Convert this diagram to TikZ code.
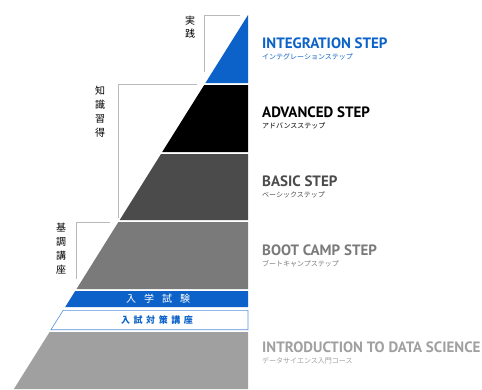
\documentclass[tikz,border=0pt]{standalone}
\usepackage{fontspec}
\usepackage{tikz}
\setsansfont{PT Sans}
\newfontfamily\jpfont{Noto Sans CJK JP}
\definecolor{stepblue}{RGB}{12,98,200}
\definecolor{darkstep}{RGB}{75,75,75}
\definecolor{midstep}{RGB}{122,122,122}
\definecolor{lightstep}{RGB}{160,160,160}
\definecolor{bracketgray}{RGB}{185,185,185}

\begin{document}
\begin{tikzpicture}[x=1pt,y=1pt]
\tikzstyle{every node}+=[inner sep=0pt]
\tikzstyle{title}=[anchor=base west,font=\sffamily\bfseries\fontsize{15}{15}\selectfont]
\tikzstyle{subtitle}=[anchor=base west,font=\jpfont\fontsize{7}{7}\selectfont]
\tikzstyle{side}=[font=\jpfont\fontsize{10}{10}\selectfont,align=center]
\useasboundingbox (0,0) rectangle (482,-389);
% pyramid layers
\fill [stepblue] (248,-15) -- (248,-83) -- (205.4,-83) -- cycle;
\fill [black] (248,-85) -- (248,-152) -- (162.2,-152) -- (204.2,-85) -- cycle;
\fill [darkstep] (248,-154) -- (248,-220) -- (119.7,-220) -- (161.0,-154) -- cycle;
\fill [midstep] (248,-222) -- (248,-289) -- (76.5,-289) -- (118.4,-222) -- cycle;
\fill [stepblue] (248,-291) -- (248,-307) -- (65.2,-307) -- (75.2,-291) -- cycle;
\draw [stepblue!70,line width=0.6pt] (248,-310.3) -- (248,-329.7) -- (51.0,-329.7) -- (63.2,-310.3) -- cycle;
\fill [lightstep] (248,-332) -- (248,-389) -- (13.9,-389) -- (49.6,-332) -- cycle;
% brackets
\draw [bracketgray,line width=0.6pt] (240,-15) -- (204,-15) -- (204,-72);
\draw [bracketgray,line width=0.6pt] (197,-84) -- (118,-84) -- (118,-218);
\draw [bracketgray,line width=0.6pt] (110,-222) -- (76,-222) -- (76,-279);
\node [side] (jissen) at (190,-27) {実\\[3pt]践};
\node [side] (chishiki) at (100,-112) {知\\[4pt]識\\[4pt]習\\[4pt]得};
\node [side] (kicho) at (61,-249) {基\\[4pt]調\\[4pt]講\\[4pt]座};
% band texts
\node [white,font=\jpfont\fontsize{10}{10}\selectfont] (exam) at (158,-299) {入\hspace{0.8em}学\hspace{0.8em}試\hspace{0.8em}験};
\node [stepblue,font=\jpfont\bfseries\fontsize{9}{9}\selectfont] (prep) at (157,-320) {入\hspace{0.4em}試\hspace{0.4em}対\hspace{0.4em}策\hspace{0.4em}講\hspace{0.4em}座};
% step titles
\node [title,stepblue] (integ) at (262,-48) {INTEGRATION STEP};
\node [subtitle,stepblue] (integsub) at (262,-59) {インテグレーションステップ};
\node [title,black] (adv) at (262,-117) {ADVANCED STEP};
\node [subtitle,black] (advsub) at (262,-128) {アドバンスステップ};
\node [title,darkstep] (basic) at (262,-186) {BASIC STEP};
\node [subtitle,darkstep] (basicsub) at (262,-197) {ベーシックステップ};
\node [title,midstep] (boot) at (262,-255) {BOOT CAMP STEP};
\node [subtitle,midstep] (bootsub) at (262,-266) {ブートキャンプステップ};
\node [title,lightstep] (intro) at (262,-352) {INTRODUCTION TO DATA SCIENCE};
\node [subtitle,lightstep] (introsub) at (262,-363) {データサイエンス入門コース};
\end{tikzpicture}
\end{document}
